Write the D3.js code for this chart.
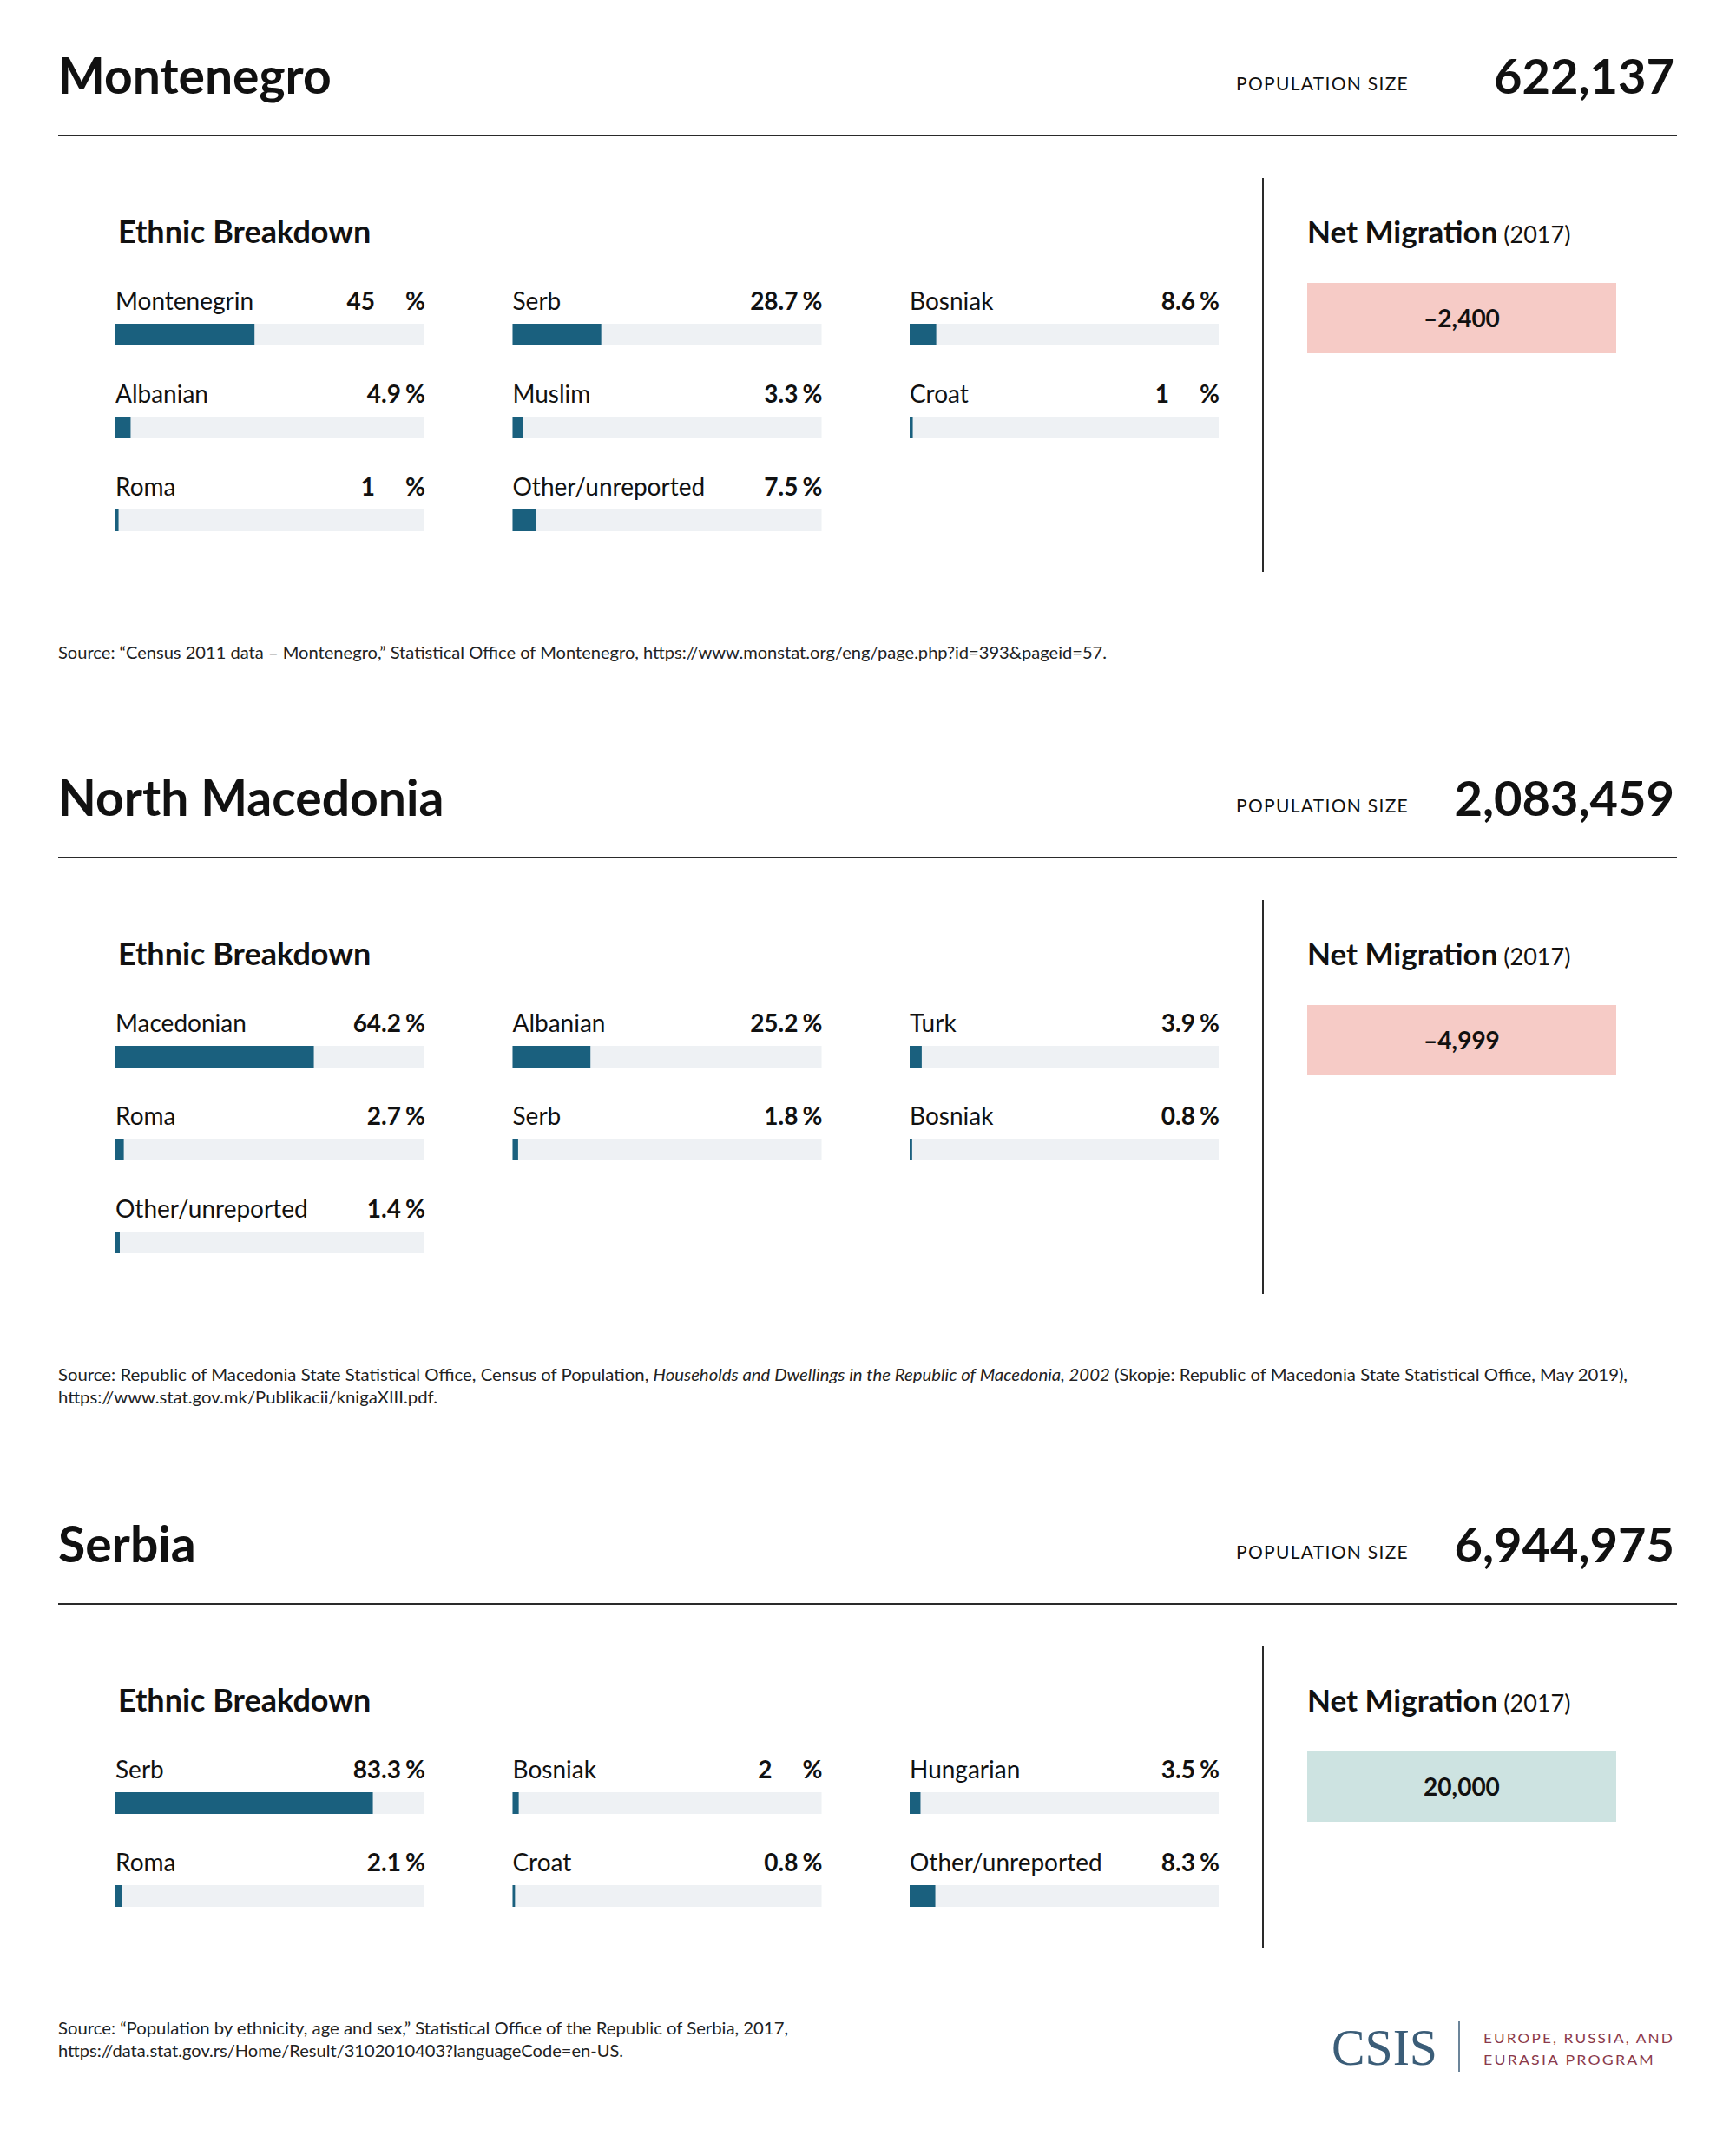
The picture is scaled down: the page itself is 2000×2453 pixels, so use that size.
<!DOCTYPE html>
<html>
<head>
<meta charset="utf-8">
<script src="https://cdn.jsdelivr.net/npm/d3@7"></script>
<style>
  html, body { margin: 0; padding: 0; background: #ffffff; }
  svg { display: block; font-family: Lato, "Noto Sans", sans-serif; }
</style>
</head>
<body>
<svg id="chart" width="2000" height="2453"></svg>
<script>
// ---------------- DATA ----------------
const countries = ["Montenegro", "North Macedonia", "Serbia"];
const populations = [622137, 2083459, 6944975];
const netMigration = [-2400, -4999, 20000];
const migrationYear = "(2017)";

const montenegroGroups = ["Montenegrin", "Serb", "Bosniak", "Albanian", "Muslim", "Croat", "Roma", "Other/unreported"];
const montenegroShares = [45, 28.7, 8.6, 4.9, 3.3, 1, 1, 7.5];

const macedoniaGroups = ["Macedonian", "Albanian", "Turk", "Roma", "Serb", "Bosniak", "Other/unreported"];
const macedoniaShares = [64.2, 25.2, 3.9, 2.7, 1.8, 0.8, 1.4];

const serbiaGroups = ["Serb", "Bosniak", "Hungarian", "Roma", "Croat", "Other/unreported"];
const serbiaShares = [83.3, 2, 3.5, 2.1, 0.8, 8.3];

const sourcesMontenegro = [
  [{t: "Source: \u201cCensus 2011 data \u2013 Montenegro,\u201d Statistical Office of Montenegro, https://www.monstat.org/eng/page.php?id=393&pageid=57."}]
];
const sourcesMacedonia = [
  [{t: "Source: Republic of Macedonia State Statistical Office, Census of Population, "},
   {t: "Households and Dwellings in the Republic of Macedonia, 2002", i: true},
   {t: " (Skopje: Republic of Macedonia State Statistical Office, May 2019),"}],
  [{t: "https://www.stat.gov.mk/Publikacii/knigaXIII.pdf."}]
];
const sourcesSerbia = [
  [{t: "Source: \u201cPopulation by ethnicity, age and sex,\u201d Statistical Office of the Republic of Serbia, 2017,"}],
  [{t: "https://data.stat.gov.rs/Home/Result/3102010403?languageCode=en-US."}]
];
const sourceWidths = [[1208], [1808, 437], [841, 651]];

const groupsList = [montenegroGroups, macedoniaGroups, serbiaGroups];
const sharesList = [montenegroShares, macedoniaShares, serbiaShares];
const sourcesList = [sourcesMontenegro, sourcesMacedonia, sourcesSerbia];
const sectionOffsets = [0, 832, 1692];

// ---------------- STYLE ----------------
const C = {
  ink: "#111111",
  rule: "#2a2a2a",
  bar: "#1a607e",
  track: "#eef1f4",
  neg: "#f6cbc6",
  pos: "#cde3e1",
  source: "#222222",
  logoBlue: "#3b5d78",
  logoRed: "#8b3a4b"
};

const svg = d3.select("#chart");
svg.append("rect").attr("width", 2000).attr("height", 2453).attr("fill", "#fff");

const trackW = 356;
const x = d3.scaleLinear().domain([0, 100]).range([0, trackW]);
const colX = d3.scaleLinear().domain([0, 2]).range([133, 1048]);
const rowStep = 107;
const barH = 25;

const fmtPop = d3.format(",");
const fmtMig = v => (v < 0 ? "\u2013" : "") + d3.format(",")(Math.abs(v));
const fmtPct = v => Number.isInteger(v) ? String(v) : v.toFixed(1);

countries.forEach((name, ci) => {
  const oy = sectionOffsets[ci];
  const g = svg.append("g").attr("transform", `translate(0,${oy})`);

  // Title
  g.append("text").attr("x", 67).attr("y", 108)
    .attr("font-size", 57).attr("font-weight", 700).attr("fill", C.ink)
    .text(name);

  // Population
  g.append("text").attr("x", 1424).attr("y", 104)
    .attr("font-size", 21).attr("letter-spacing", 1.3).attr("fill", C.ink)
    .text("POPULATION SIZE");
  g.append("text").attr("x", 1929).attr("y", 108).attr("text-anchor", "end")
    .attr("font-size", 56).attr("font-weight", 700).attr("fill", C.ink)
    .text(fmtPop(populations[ci]));

  // Rule
  g.append("line").attr("x1", 67).attr("x2", 1932).attr("y1", 156).attr("y2", 156)
    .attr("stroke", C.rule).attr("stroke-width", 2);

  // Ethnic breakdown heading
  g.append("text").attr("x", 136).attr("y", 280)
    .attr("font-size", 36).attr("font-weight", 700).attr("fill", C.ink)
    .text("Ethnic Breakdown");

  const groups = groupsList[ci];
  const shares = sharesList[ci];
  const items = groups.map((gname, i) => ({name: gname, v: shares[i], col: i % 3, row: Math.floor(i / 3)}));
  const nRows = d3.max(items, d => d.row) + 1;

  const cell = g.selectAll("g.cell").data(items).join("g")
    .attr("class", "cell")
    .attr("transform", d => `translate(${colX(d.col)},${373 + d.row * rowStep})`);

  cell.append("rect").attr("x", 0).attr("y", 0).attr("width", x(100)).attr("height", barH)
    .attr("fill", C.track);
  cell.append("rect").attr("x", 0).attr("y", 0).attr("width", d => x(d.v)).attr("height", barH)
    .attr("fill", C.bar);
  cell.append("text").attr("x", 0).attr("y", -16)
    .attr("font-size", 28).attr("fill", C.ink)
    .text(d => d.name);
  cell.append("text").attr("x", x(100) + 1).attr("y", -16).attr("text-anchor", "end")
    .attr("font-size", 28).attr("font-weight", 700).attr("fill", C.ink)
    .text("%");
  cell.append("text")
    .attr("x", d => Number.isInteger(d.v) ? x(100) - 57 : x(100) - 27)
    .attr("y", -16).attr("text-anchor", "end")
    .attr("font-size", 28).attr("font-weight", 700).attr("fill", C.ink)
    .text(d => fmtPct(d.v));

  const lastBottom = 373 + (nRows - 1) * rowStep + barH;

  // Vertical divider
  g.append("line").attr("x1", 1455).attr("x2", 1455).attr("y1", 205).attr("y2", lastBottom + 47)
    .attr("stroke", C.rule).attr("stroke-width", 2);

  // Net migration
  const nm = g.append("text").attr("x", 1506).attr("y", 280).attr("fill", C.ink);
  nm.append("tspan").attr("font-size", 35).attr("font-weight", 700).text("Net Migration");
  nm.append("tspan").attr("font-size", 27).attr("font-weight", 400).text(" " + migrationYear);

  const mv = netMigration[ci];
  g.append("rect").attr("x", 1506).attr("y", 326).attr("width", 356).attr("height", 81)
    .attr("fill", mv < 0 ? C.neg : C.pos);
  g.append("text").attr("x", 1684).attr("y", 377).attr("text-anchor", "middle")
    .attr("font-size", 28).attr("font-weight", 700).attr("fill", C.ink)
    .text(fmtMig(mv));

  // Source
  const srcY = lastBottom + 147;
  sourcesList[ci].forEach((line, li) => {
    const t = g.append("text").attr("x", 67).attr("y", srcY + li * 26)
      .attr("font-size", 19).attr("font-weight", 400).attr("fill", C.source)
      .attr("textLength", sourceWidths[ci][li]).attr("lengthAdjust", "spacingAndGlyphs");
    line.forEach(seg => {
      t.append("tspan").attr("font-style", seg.i ? "italic" : "normal").text(seg.t);
    });
  });
});

// Logo
const logo = svg.append("g");
logo.append("text").attr("x", 1534).attr("y", 2379)
  .style("font-family", "'Liberation Serif', 'DejaVu Serif', serif")
  .attr("font-size", 60).attr("fill", C.logoBlue)
  .attr("textLength", 122).attr("lengthAdjust", "spacingAndGlyphs")
  .text("CSIS");
logo.append("line").attr("x1", 1681).attr("x2", 1681).attr("y1", 2329).attr("y2", 2387)
  .attr("stroke", C.logoBlue).attr("stroke-width", 1.5);
logo.append("text").attr("x", 1709).attr("y", 2354)
  .attr("font-size", 16).attr("letter-spacing", 2).attr("fill", C.logoRed)
  .attr("textLength", 220).attr("lengthAdjust", "spacingAndGlyphs")
  .text("EUROPE, RUSSIA, AND");
logo.append("text").attr("x", 1709).attr("y", 2379)
  .attr("font-size", 16).attr("letter-spacing", 2).attr("fill", C.logoRed)
  .attr("textLength", 198).attr("lengthAdjust", "spacingAndGlyphs")
  .text("EURASIA PROGRAM");
</script>
</body>
</html>
